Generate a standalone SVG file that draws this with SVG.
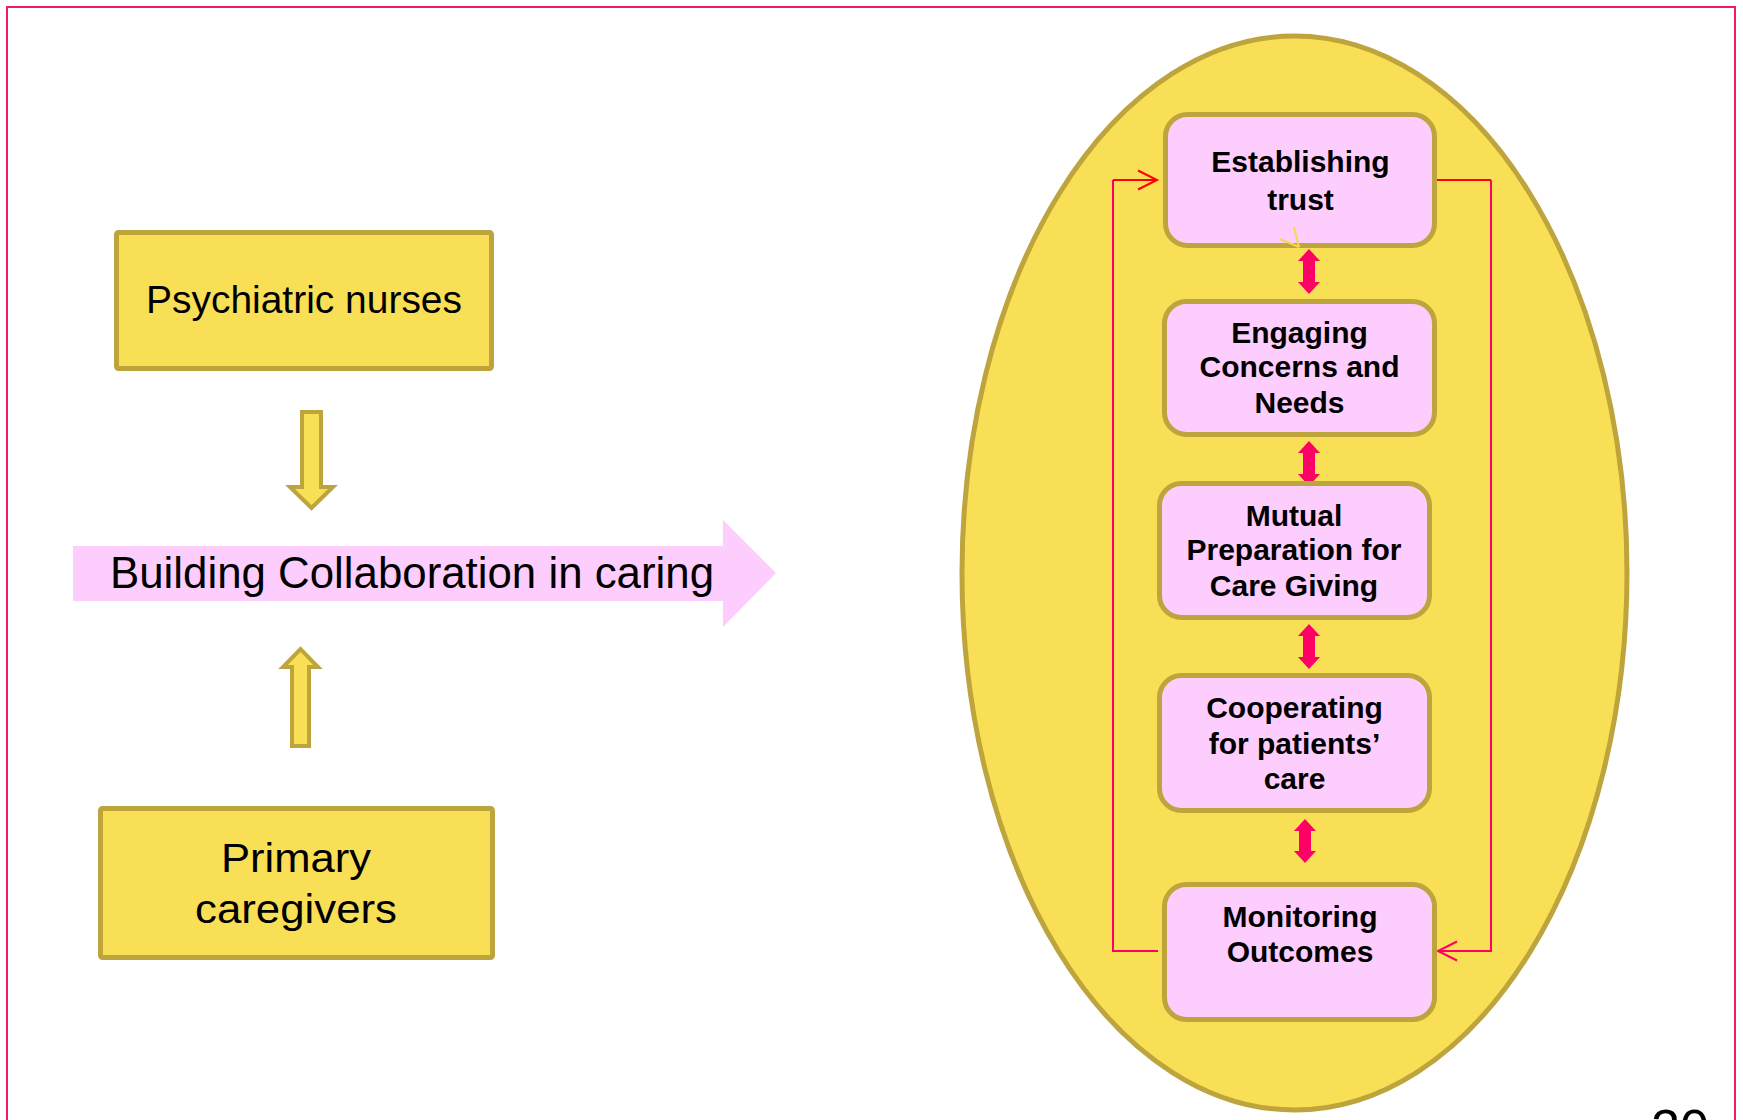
<svg xmlns="http://www.w3.org/2000/svg" width="1743" height="1120" viewBox="0 0 1743 1120">
  <style>
    .ybox { fill: #F9DF55; stroke: #BDA43C; stroke-width: 5; }
    .pbox { fill: #FDCDFD; stroke: #BDA43C; stroke-width: 5; }
    .blk { fill: #F9DF55; stroke: #BDA43C; stroke-width: 4; stroke-linejoin: miter; }
    .lt { font-family: "Comic Sans MS", "Liberation Sans", "DejaVu Sans", sans-serif; fill: #000; text-anchor: middle; }
    .bt { font-family: "Comic Sans MS", "Liberation Sans", "DejaVu Sans", sans-serif; font-weight: bold; font-size: 30px; fill: #000; text-anchor: middle; }
    .dbl { fill: #FF0066; }
    .conn { fill: none; stroke-width: 2; }
  </style>
  <defs>
    <marker id="openR" markerUnits="userSpaceOnUse" markerWidth="22" markerHeight="22" refX="19" refY="9.5" orient="auto" overflow="visible">
      <path d="M0,0 L19,9.5 L0,19" fill="none" stroke="#FF0000" stroke-width="2"/>
    </marker>
    <marker id="openP" markerUnits="userSpaceOnUse" markerWidth="22" markerHeight="22" refX="19" refY="9.5" orient="auto" overflow="visible">
      <path d="M0,0 L19,9.5 L0,19" fill="none" stroke="#FF0066" stroke-width="2"/>
    </marker>
  </defs>

  <rect x="7" y="7" width="1728" height="1200" fill="none" stroke="#F31A6B" stroke-width="2"/>

  <g id="psychiatric-nurses">
    <rect class="ybox" x="116.5" y="232.5" width="375" height="136" rx="2"/>
    <text class="lt" x="304" y="313" font-size="38" textLength="316" lengthAdjust="spacingAndGlyphs">Psychiatric nurses</text>
  </g>

  <g id="arrow-down">
    <path class="blk" d="M302,412 H321 V487 H333 L311.5,508 L290,487 H302 Z"/>
  </g>

  <g id="building-collaboration">
    <path d="M73,546 H723 V520 L776,573 L723,627 V601 H73 Z" fill="#FDCDFD"/>
    <text class="lt" x="412" y="588" font-size="44" textLength="604" lengthAdjust="spacingAndGlyphs">Building Collaboration in caring</text>
  </g>

  <g id="arrow-up">
    <path class="blk" d="M292,746 V667 H283 L300.5,649 L318,667 H309 V746 Z"/>
  </g>

  <g id="primary-caregivers">
    <rect class="ybox" x="100.5" y="808.5" width="392" height="149" rx="2"/>
    <text class="lt" x="296" y="872" font-size="40" textLength="150" lengthAdjust="spacingAndGlyphs">Primary</text>
    <text class="lt" x="296" y="923" font-size="40" textLength="202" lengthAdjust="spacingAndGlyphs">caregivers</text>
  </g>

  <g id="cycle-ellipse">
    <ellipse cx="1294.5" cy="573" rx="332.5" ry="537" fill="#F9DF55" stroke="#BDA43C" stroke-width="5"/>
  </g>

  <g id="connectors">
    <path class="conn" stroke="#FF0066" d="M1158,951 H1113 V180"/>
    <path class="conn" stroke="#FF0000" d="M1113,180 H1157" marker-end="url(#openR)"/>
    <path class="conn" stroke="#FF0000" d="M1437,180 H1491"/>
    <path class="conn" stroke="#FF0066" d="M1491,180 V951 H1438" marker-end="url(#openP)"/>
    <path class="dbl" d="M1309,249 L1320,261 H1315 V282 H1320 L1309,294 L1298,282 H1303 V261 H1298 Z"/>
    <path class="dbl" d="M1309,441 L1320,453 H1315 V474 H1320 L1309,486 L1298,474 H1303 V453 H1298 Z"/>
    <path class="dbl" d="M1309,624 L1320,636 H1315 V657 H1320 L1309,669 L1298,657 H1303 V636 H1298 Z"/>
    <path class="dbl" d="M1305,819 L1316,831 H1311 V851 H1316 L1305,863 L1294,851 H1299 V831 H1294 Z"/>
  </g>

  <g id="establishing-trust">
    <rect class="pbox" x="1165.5" y="114.5" width="269" height="131" rx="22"/>
    <text class="bt" x="1300.5" y="172">Establishing</text>
    <text class="bt" x="1300.5" y="210">trust</text>
    <path d="M1294,227 L1299,247 M1280,239 L1299,247" fill="none" stroke="#F5D94A" stroke-width="2"/>
  </g>

  <g id="engaging-concerns">
    <rect class="pbox" x="1164.5" y="301.5" width="270" height="133" rx="22"/>
    <text class="bt" x="1299.5" y="343">Engaging</text>
    <text class="bt" x="1299.5" y="377">Concerns and</text>
    <text class="bt" x="1299.5" y="413">Needs</text>
  </g>

  <g id="mutual-preparation">
    <rect class="pbox" x="1159.5" y="483.5" width="270" height="134" rx="22"/>
    <text class="bt" x="1294" y="526">Mutual</text>
    <text class="bt" x="1294" y="560">Preparation for</text>
    <text class="bt" x="1294" y="596">Care Giving</text>
  </g>

  <g id="cooperating">
    <rect class="pbox" x="1159.5" y="675.5" width="270" height="135" rx="22"/>
    <text class="bt" x="1294.5" y="718">Cooperating</text>
    <text class="bt" x="1294.5" y="754">for patients’</text>
    <text class="bt" x="1294.5" y="789">care</text>
  </g>

  <g id="monitoring-outcomes">
    <rect class="pbox" x="1164.5" y="884.5" width="270" height="135" rx="22"/>
    <text class="bt" x="1300" y="927">Monitoring</text>
    <text class="bt" x="1300" y="962">Outcomes</text>
  </g>

  <text x="1680" y="1146" font-family="Liberation Sans, sans-serif" font-size="52" text-anchor="middle" fill="#000">20</text>
</svg>
